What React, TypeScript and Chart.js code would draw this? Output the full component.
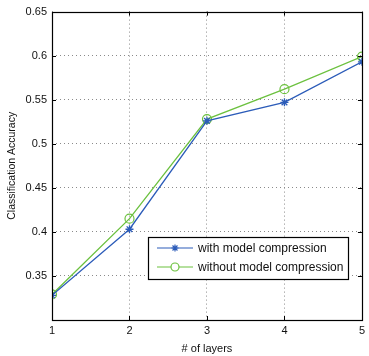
import React, { useEffect, useRef } from "react";
import { Chart, registerables } from "chart.js";

Chart.register(...registerables);

const layers = [1, 2, 3, 4, 5];
const withCompression = [0.328, 0.403, 0.526, 0.547, 0.593];
const withoutCompression = [0.329, 0.415, 0.528, 0.562, 0.599];
const seriesLabels = ["with model compression", "without model compression"];
const xTitle = "# of layers";
const yTitle = "Classification Accuracy";

const BLUE = "#2c5cb9";
const GREEN = "#6cc13f";
const FONT = "'Liberation Sans', Arial, sans-serif";

const boxPlugin = {
  id: "boxPlugin",
  afterDraw(chart: any) {
    const { ctx, chartArea: a, scales } = chart;
    ctx.save();
    ctx.strokeStyle = "#000";
    ctx.lineWidth = 1;
    ctx.setLineDash([]);
    const xs = scales.x, ys = scales.y;
    xs.ticks.forEach((t: any) => {
      const px = Math.round(xs.getPixelForValue(t.value)) + 0.5;
      ctx.beginPath();
      ctx.moveTo(px, a.bottom); ctx.lineTo(px, a.bottom - 4);
      ctx.moveTo(px, a.top); ctx.lineTo(px, a.top + 4);
      ctx.stroke();
    });
    ys.ticks.forEach((t: any) => {
      const py = Math.round(ys.getPixelForValue(t.value)) + 0.5;
      ctx.beginPath();
      ctx.moveTo(a.left, py); ctx.lineTo(a.left + 4, py);
      ctx.moveTo(a.right, py); ctx.lineTo(a.right - 4, py);
      ctx.stroke();
    });
    ctx.lineWidth = 1.2;
    ctx.strokeRect(Math.round(a.left) + 0.5, Math.round(a.top) + 0.5, Math.round(a.right - a.left), Math.round(a.bottom - a.top));

    const lx = 148, ly = 237, lw = 200, lh = 42;
    ctx.fillStyle = "#fff";
    ctx.fillRect(lx, ly, lw, lh);
    ctx.lineWidth = 1.2;
    ctx.strokeStyle = "#000";
    ctx.strokeRect(lx + 0.5, ly + 0.5, lw, lh);
    ctx.font = "12px " + FONT;
    ctx.textBaseline = "middle";
    chart.data.datasets.forEach((ds: any, i: number) => {
      const y = ly + 11 + i * 19;
      ctx.strokeStyle = ds.borderColor;
      ctx.lineWidth = 1.2;
      ctx.beginPath();
      ctx.moveTo(157, y); ctx.lineTo(193, y);
      ctx.stroke();
      const cx = 175;
      if (ds.pointStyle === "star") {
        const r = 3.5;
        ctx.beginPath();
        for (let k = 0; k < 4; k++) {
          const ang = (k * Math.PI) / 4;
          ctx.moveTo(cx - r * Math.cos(ang), y - r * Math.sin(ang));
          ctx.lineTo(cx + r * Math.cos(ang), y + r * Math.sin(ang));
        }
        ctx.stroke();
      } else {
        ctx.fillStyle = "#fff";
        ctx.beginPath();
        ctx.arc(cx, y, 4, 0, Math.PI * 2);
        ctx.fill();
        ctx.stroke();
      }
      ctx.fillStyle = "#111";
      ctx.fillText(ds.label, 198, y + 1);
    });
    ctx.restore();
  },
};

export default function App() {
  const ref = useRef<HTMLCanvasElement>(null);
  useEffect(() => {
    if (!ref.current) return;
    const edge = (v: number, lo: number, hi: number) => Math.abs(v - lo) < 1e-9 || Math.abs(v - hi) < 1e-9;
    const chart = new Chart(ref.current, {
      type: "line",
      data: {
        labels: layers,
        datasets: [
          {
            label: seriesLabels[0],
            data: layers.map((x, i) => ({ x, y: withCompression[i] })),
            borderColor: BLUE,
            backgroundColor: BLUE,
            borderWidth: 1.3,
            pointStyle: "star",
            pointRadius: 4,
            pointBorderWidth: 1.3,
            pointBorderColor: BLUE,
            tension: 0,
          },
          {
            label: seriesLabels[1],
            data: layers.map((x, i) => ({ x, y: withoutCompression[i] })),
            borderColor: GREEN,
            backgroundColor: "rgba(255,255,255,0)",
            borderWidth: 1.3,
            pointStyle: "circle",
            pointRadius: 4.5,
            pointBorderWidth: 1.2,
            pointBorderColor: GREEN,
            tension: 0,
          },
        ],
      },
      options: {
        animation: false,
        responsive: false,
        maintainAspectRatio: false,
        layout: { padding: { left: 0, top: 9, right: 5, bottom: 0 } },
        plugins: { legend: { display: false }, tooltip: { enabled: false } },
        scales: {
          x: {
            type: "linear",
            min: 1,
            max: 5,
            ticks: { stepSize: 1, color: "#111", font: { family: FONT, size: 11 }, padding: 4 },
            grid: {
              drawTicks: false,
              color: (c: any) => (edge(c.tick?.value, 1, 5) ? "rgba(0,0,0,0)" : "#8a8a8a"),
              lineWidth: 1,
            },
            border: { display: false, dash: [1, 3] },
            title: { display: true, text: xTitle, color: "#111", font: { family: FONT, size: 11 }, padding: { top: 1, bottom: 0 } },
            afterFit: (s: any) => { s.height = 36; },
          },
          y: {
            type: "linear",
            min: 0.3,
            max: 0.65,
            ticks: {
              stepSize: 0.05,
              color: "#111",
              font: { family: FONT, size: 11 },
              padding: 5,
              callback: (v: any) => (Math.abs(v - 0.3) < 1e-9 ? "" : String(Math.round(v * 100) / 100)),
            },
            grid: {
              drawTicks: false,
              color: (c: any) => (edge(c.tick?.value, 0.3, 0.65) ? "rgba(0,0,0,0)" : "#8a8a8a"),
              lineWidth: 1,
            },
            border: { display: false, dash: [1, 3] },
            title: { display: true, text: yTitle, color: "#111", font: { family: FONT, size: 10.5 }, padding: { top: 6, bottom: 0 } },
            afterFit: (s: any) => { s.width = 52; },
          },
        },
      },
      plugins: [boxPlugin],
    });
    return () => chart.destroy();
  }, []);
  return (
    <div style={{ position: "fixed", left: 0, top: 0, width: 369, height: 356, background: "#fff" }}>
      <canvas ref={ref} width={369} height={356} style={{ width: 369, height: 356 }} />
    </div>
  );
}
